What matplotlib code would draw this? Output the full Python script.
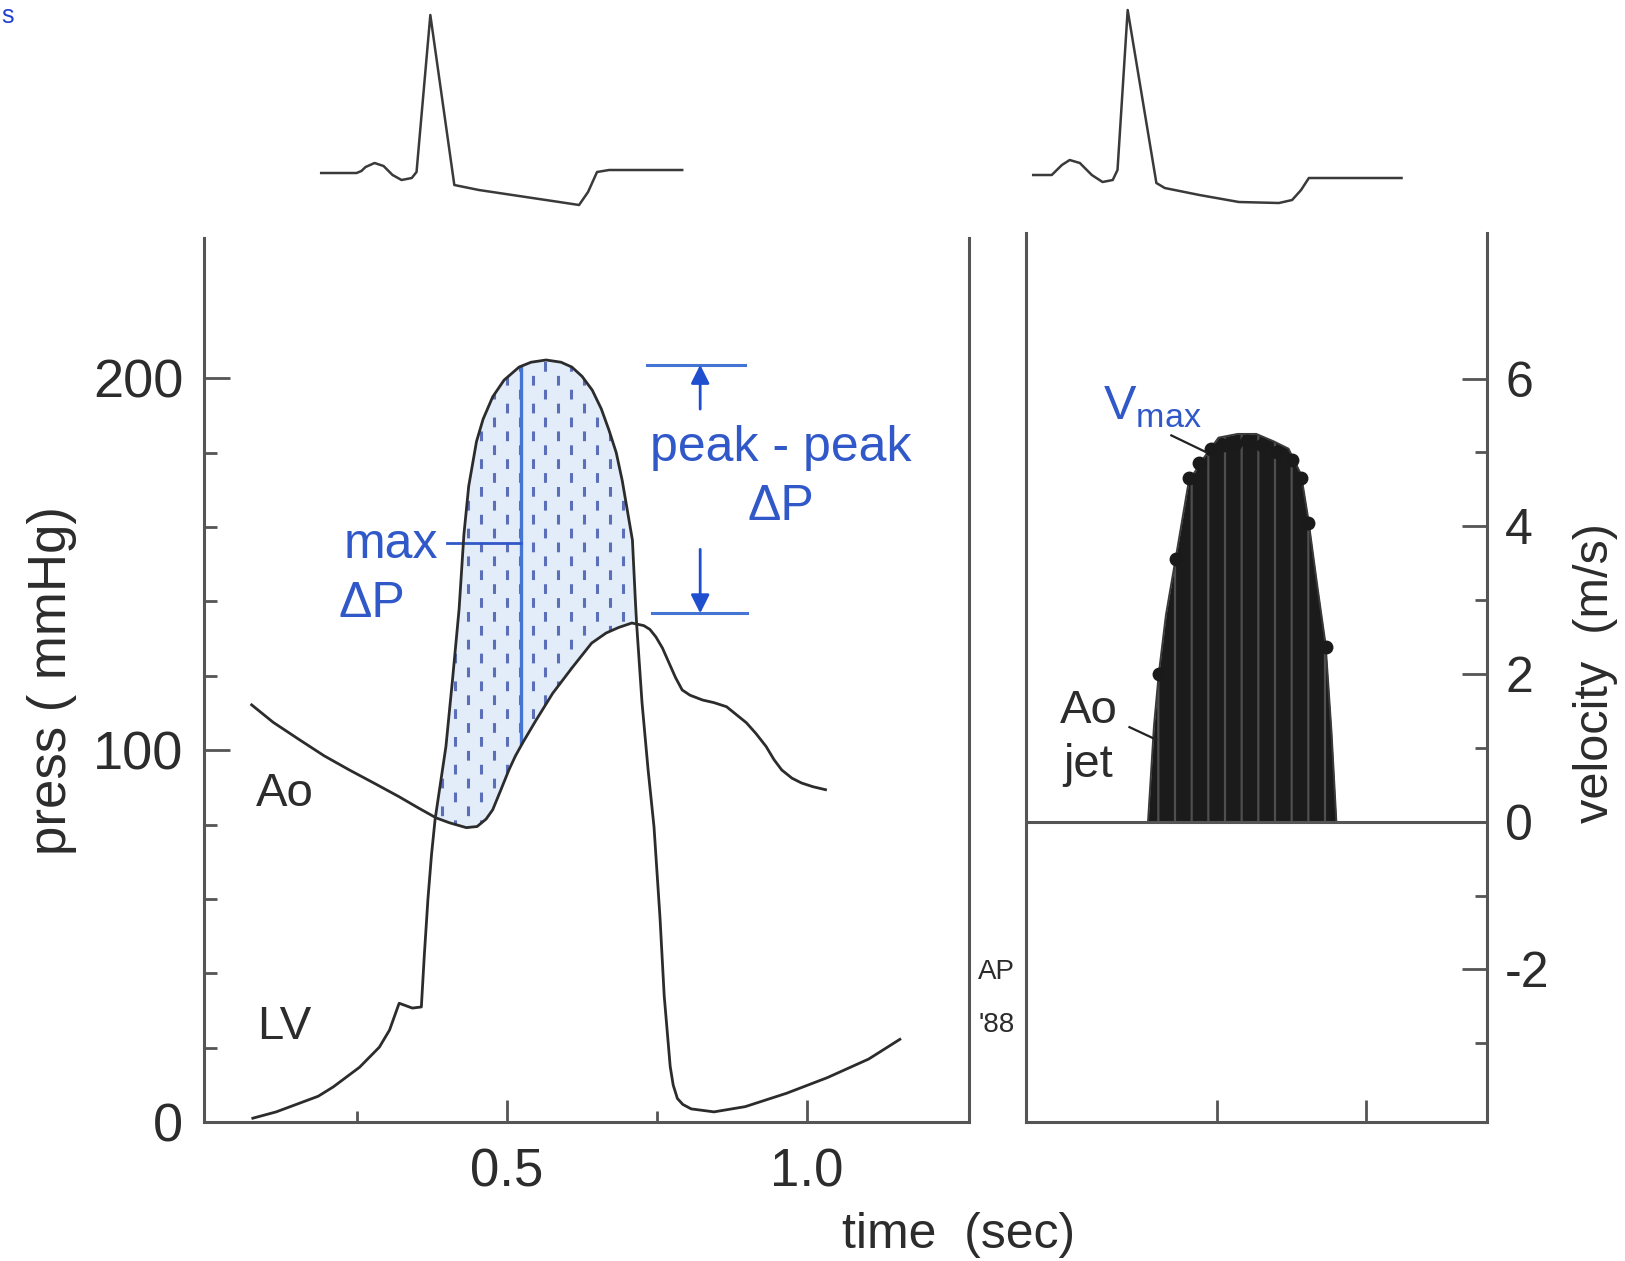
import numpy as np
import matplotlib
matplotlib.use('Agg')
import matplotlib.pyplot as plt

plt.rcParams['font.family'] = ['Liberation Sans', 'DejaVu Sans']
plt.rcParams['mathtext.fontset'] = 'custom'
plt.rcParams['mathtext.rm'] = 'Liberation Sans'
plt.rcParams['axes.unicode_minus'] = False
plt.rcParams['lines.scale_dashes'] = False
plt.rcParams['hatch.linewidth'] = 1.6

# ---------------- data ----------------
# Left ventricular pressure (time s, mmHg)
lv_t = np.array([0.076, 0.115, 0.155, 0.185, 0.21, 0.254, 0.287, 0.304, 0.316, 0.32,
                 0.342, 0.357, 0.362, 0.368, 0.374, 0.38, 0.398, 0.409, 0.42, 0.428,
                 0.436, 0.449, 0.46, 0.476, 0.495, 0.52, 0.54, 0.565, 0.59, 0.608,
                 0.625, 0.642, 0.657, 0.67, 0.682, 0.692, 0.709, 0.714, 0.716, 0.725,
                 0.735, 0.745, 0.755, 0.762, 0.772, 0.777, 0.784, 0.793, 0.807, 0.845,
                 0.897, 0.966, 1.034, 1.103, 1.155])
lv_p = np.array([1.1, 2.8, 5.2, 7.0, 9.5, 14.8, 20.2, 24.8, 30.2, 32.0,
                 30.7, 31.0, 45.0, 60.0, 72.0, 81.5, 101.0, 119.0, 138.0, 158.0,
                 171.0, 183.0, 189.0, 195.0, 199.5, 203.0, 204.3, 204.9, 204.3, 203.0,
                 200.5, 196.8, 191.8, 186.0, 180.0, 172.5, 156.5, 140.0, 134.0, 112.8,
                 95.0, 79.4, 55.0, 34.0, 15.0, 10.0, 6.4, 4.8, 3.6, 2.8,
                 4.2, 7.8, 12.0, 17.0, 22.3])
# Aortic pressure
ao_t = np.array([0.074, 0.11, 0.154, 0.195, 0.237, 0.28, 0.32, 0.352, 0.382, 0.404,
                 0.432, 0.45, 0.465, 0.476, 0.49, 0.503, 0.514, 0.526, 0.548, 0.576,
                 0.609, 0.641, 0.665, 0.686, 0.708, 0.728, 0.738, 0.748, 0.759, 0.77,
                 0.781, 0.792, 0.805, 0.826, 0.845, 0.866, 0.899, 0.915, 0.932, 0.945,
                 0.958, 0.975, 0.991, 1.01, 1.031])
ao_p = np.array([112.2, 107.5, 102.8, 98.5, 94.7, 91.0, 87.5, 84.5, 81.8, 80.5,
                 79.2, 79.5, 81.5, 84.0, 89.5, 94.7, 98.5, 102.0, 108.0, 115.3,
                 122.3, 128.8, 131.5, 133.0, 134.2, 133.5, 132.5, 130.5, 127.5, 123.5,
                 119.5, 116.2, 114.8, 113.5, 112.8, 111.7, 107.4, 104.5, 101.0, 97.5,
                 94.7, 92.5, 91.2, 90.2, 89.4])
# ECG traces (time s, mV)
ecg1_t = [0.190, 0.249, 0.257, 0.264, 0.279, 0.294, 0.309, 0.324, 0.341, 0.349, 0.372,
          0.412, 0.453, 0.52, 0.587, 0.62, 0.635, 0.65, 0.67, 0.792]
ecg1_mv = [0.0, 0.0, 0.02, 0.06, 0.10, 0.07, -0.02, -0.07, -0.05, 0.01, 1.58,
           -0.12, -0.17, -0.23, -0.29, -0.32, -0.19, 0.01, 0.03, 0.03]
ecg2_t = [0.193, 0.224, 0.241, 0.254, 0.271, 0.291, 0.309, 0.326, 0.334, 0.351,
          0.399, 0.413, 0.471, 0.537, 0.604, 0.626, 0.641, 0.654, 0.809]
ecg2_mv = [-0.02, -0.02, 0.08, 0.13, 0.10, -0.02, -0.09, -0.07, 0.03, 1.63,
           -0.10, -0.15, -0.22, -0.29, -0.30, -0.27, -0.17, -0.05, -0.05]
# Doppler aortic jet envelope (time s, m/s)
jet_t = [0.385, 0.395, 0.403, 0.415, 0.432, 0.453, 0.476, 0.503, 0.535, 0.566,
         0.595, 0.62, 0.641, 0.653, 0.668, 0.682, 0.692, 0.700]
jet_v = [0.0, 1.3, 2.0, 2.8, 3.6, 4.6, 4.9, 5.2, 5.25, 5.25,
         5.15, 5.05, 4.7, 4.1, 3.2, 2.4, 1.2, 0.0]
# Vmax points
vmax_t = [0.403, 0.432, 0.453, 0.47, 0.49, 0.51, 0.53, 0.55, 0.575, 0.60, 0.625, 0.641, 0.653, 0.682]
vmax_v = [2.0, 3.55, 4.65, 4.85, 5.05, 5.1, 5.12, 5.15, 5.1, 5.0, 4.9, 4.66, 4.05, 2.36]
# annotations
maxdp_t, maxdp_top, maxdp_bot, maxdp_lead = 0.523, 203.0, 102.0, 155.7
pk_top, pk_bot = 203.6, 136.8

# ---------------- style ----------------
BLK = '#2c2c2c'
SPN = '#555555'
BLUE = '#3058c8'
BLUEL = '#4474d4'

fig = plt.figure(figsize=(16.25, 12.61), dpi=100)
fig.patch.set_facecolor('white')
ax1 = fig.add_axes([0.1257, 0.110, 0.4705, 0.701])
ax2 = fig.add_axes([0.6314, 0.110, 0.2837, 0.7052])
e1 = fig.add_axes([0.1257, 0.8176, 0.4705, 0.1824])
e2 = fig.add_axes([0.6314, 0.8176, 0.2837, 0.1824])

# ECGs
for e, tt, mv, xl in [(e1, ecg1_t, ecg1_mv, (-0.005, 1.27)), (e2, ecg2_t, ecg2_mv, (0.181, 0.952))]:
    e.plot(tt, mv, color='#3a3a3a', lw=1.8, solid_joinstyle='round')
    e.set_xlim(*xl)
    e.set_ylim(-0.57, 1.73)
    e.axis('off')

# ---------- left panel ----------
ax1.set_xlim(-0.005, 1.27)
ax1.set_ylim(0, 237.6)
for s in ['left', 'bottom', 'right']:
    ax1.spines[s].set_color(SPN)
    ax1.spines[s].set_linewidth(2.2)
ax1.spines['top'].set_visible(False)

# shaded max pressure region
m1 = (lv_t >= 0.38) & (lv_t <= 0.716)
m2 = (ao_t >= 0.382) & (ao_t <= 0.708)
poly_t = np.concatenate([lv_t[m1], ao_t[m2][::-1]])
poly_p = np.concatenate([lv_p[m1], ao_p[m2][::-1]])
patch = ax1.fill(poly_t, poly_p, facecolor='#e3ecf9', edgecolor='none', zorder=1)[0]
cols = np.arange(0.392, 0.716, 0.0215)
for i, x in enumerate(cols):
    ln, = ax1.plot([x, x], [60, 215], color='#5a6fb8', lw=2.2,
                   linestyle=(10 * (i % 2), (7, 13)), zorder=2)
    ln.set_clip_path(patch)

ax1.plot(ao_t, ao_p, color=BLK, lw=2.0, zorder=4, solid_joinstyle='round')
ax1.plot(lv_t, lv_p, color=BLK, lw=2.0, zorder=4, solid_joinstyle='round')

# max dP
ax1.plot([maxdp_t, maxdp_t], [maxdp_bot, maxdp_top], color=BLUEL, lw=2.4, zorder=3)
ax1.plot([0.40, maxdp_t], [maxdp_lead, maxdp_lead], color=BLUE, lw=2.0, zorder=3)
ax1.text(0.307, 151.7, 'max', fontsize=36, color=BLUE, ha='center', va='baseline')
ax1.text(0.275, 135.8, 'ΔP', fontsize=36, color=BLUE, ha='center', va='baseline')

# peak-peak
ax1.plot([0.733, 0.897], [pk_top, pk_top], color=BLUEL, lw=2.2)
ax1.plot([0.741, 0.900], [pk_bot, pk_bot], color=BLUEL, lw=2.2)
ap = dict(arrowstyle='-|>', color='#1f4fcf', lw=2.0, mutation_scale=28, shrinkA=0, shrinkB=0)
ax1.annotate('', xy=(0.822, pk_top), xytext=(0.822, 191.7), arrowprops=ap)
ax1.annotate('', xy=(0.822, pk_bot), xytext=(0.822, 154.0), arrowprops=ap)
ax1.text(0.957, 177.7, 'peak - peak', fontsize=36, color=BLUE, ha='center', va='baseline')
ax1.text(0.957, 161.9, 'ΔP', fontsize=36, color=BLUE, ha='center', va='baseline')

ax1.text(0.129, 85.0, 'Ao', fontsize=34, color=BLK, ha='center', va='baseline')
ax1.text(0.129, 22.3, 'LV', fontsize=34, color=BLK, ha='center', va='baseline')

ax1.set_yticks([0, 100, 200])
ax1.set_yticks([20, 40, 60, 80, 120, 140, 160, 180], minor=True)
ax1.set_xticks([0.5, 1.0])
ax1.set_xticklabels(['0.5', '1.0'])
ax1.set_xticks([0.25, 0.75], minor=True)
ax1.tick_params(axis='y', which='major', direction='in', length=19, width=2, color=SPN,
                pad=15, labelsize=39, labelcolor=BLK)
ax1.tick_params(axis='y', which='minor', direction='in', length=9, width=2, color=SPN)
ax1.tick_params(axis='x', which='major', direction='in', length=16, width=2, color=SPN,
                pad=18, labelsize=38, labelcolor=BLK)
ax1.tick_params(axis='x', which='minor', direction='in', length=8, width=2, color=SPN)

ax1.set_ylabel('press ( mmHg)', fontsize=38, color=BLK)
ax1.yaxis.label.set(ha='center', va='center', rotation_mode='anchor')
ax1.yaxis.set_label_coords(-0.199, 0.5)
ax1.set_xlabel('time  (sec)', fontsize=36, color=BLK)
ax1.xaxis.label.set(ha='center', va='center')
ax1.xaxis.set_label_coords(0.986, -0.1275)

# ---------- right panel ----------
ax2.set_xlim(0.181, 0.952)
ax2.set_ylim(-4.07, 7.97)
for s in ['left', 'bottom', 'right']:
    ax2.spines[s].set_color(SPN)
    ax2.spines[s].set_linewidth(2.2)
ax2.spines['top'].set_visible(False)
ax2.axhline(0, color=SPN, lw=2.2, zorder=5)

ax2.fill_between(jet_t, 0, jet_v, color='#1b1b1b', lw=0, zorder=2)
ax2.fill_between(jet_t, 0, jet_v, facecolor='none', edgecolor='#4e4e4e', hatch='|', lw=0, zorder=3)
ax2.plot(jet_t, jet_v, color='#3a3a3a', lw=1.4, zorder=3)
ax2.plot(vmax_t, vmax_v, 'o', ms=9, color='#1a1a1a', zorder=4)

ax2.text(0.31, 5.44, r'V$_{\mathregular{max}}$', fontsize=35, color=BLUE, ha='left', va='baseline')
ax2.plot([0.424, 0.483], [5.23, 5.0], color='#222222', lw=1.6, zorder=5)
ax2.text(0.286, 1.34, 'Ao', fontsize=34, color=BLK, ha='center', va='baseline')
ax2.text(0.285, 0.61, 'jet', fontsize=34, color=BLK, ha='center', va='baseline')
ax2.plot([0.354, 0.399], [1.28, 1.11], color='#222222', lw=1.6, zorder=5)

ax2.yaxis.tick_right()
ax2.set_yticks([-2, 0, 2, 4, 6])
ax2.set_yticks([-3, -1, 1, 3, 5], minor=True)
ax2.set_xticks([0.5, 0.75])
ax2.set_xticklabels([])
ax2.tick_params(axis='y', which='major', direction='in', length=18, width=2, color=SPN,
                pad=13, labelsize=36, labelcolor=BLK)
ax2.tick_params(axis='y', which='minor', direction='in', length=9, width=2, color=SPN)
ax2.tick_params(axis='x', which='major', direction='in', length=16, width=2, color=SPN)
ax2.yaxis.set_label_position('right')
ax2.set_ylabel('velocity  (m/s)', fontsize=35, color=BLK, rotation=90)
ax2.yaxis.label.set(ha='center', va='center', rotation_mode='anchor')
ax2.yaxis.set_label_coords(1.236, 0.505)

fig.text(0.613, 0.229, 'AP', fontsize=20, color=BLK, ha='center', va='center')
fig.text(0.613, 0.187, "'88", fontsize=20, color=BLK, ha='center', va='center')
fig.text(0.001, 0.997, 's', fontsize=18, color='#2040d0', ha='left', va='top')

fig.savefig('out.png', dpi=100, facecolor='white')
